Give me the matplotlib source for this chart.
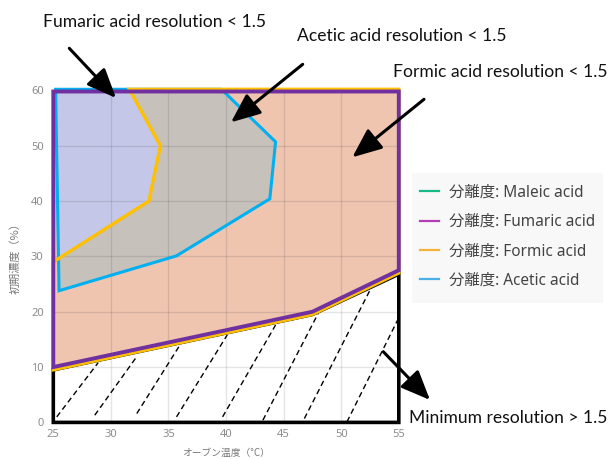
import matplotlib
matplotlib.use('Agg')
import matplotlib.pyplot as plt
from matplotlib.patches import Polygon, Rectangle
from matplotlib.lines import Line2D
from matplotlib.font_manager import FontProperties

plt.rcParams['font.family'] = ['Noto Sans CJK JP', 'DejaVu Sans']

# ---------------- data ----------------
x_ticks = [25, 30, 35, 40, 45, 50, 55]
y_ticks = [0, 10, 20, 30, 40, 50, 60]
x_label = 'オーブン温度（°C）'
y_label = '初期濃度（%）'
series_names = ['分離度: Maleic acid', '分離度: Fumaric acid',
                '分離度: Formic acid', '分離度: Acetic acid']

maleic_temp = [25, 47.5, 55, 55, 25]
maleic_conc = [10, 20, 27.5, 59.8, 59.8]
fumaric_temp = [25, 47.5, 55, 55, 25]
fumaric_conc = [10, 20, 27.5, 59.8, 59.8]
formic_temp = [25, 47.5, 55, 55, 31.6, 34.3, 33.3, 25]
formic_conc = [9.5, 19.5, 27, 60.2, 60.2, 50, 40, 29]
acetic_temp = [25.2, 39.6, 44.3, 43.8, 35.7, 25.5]
acetic_conc = [60.2, 60.2, 50.7, 40.4, 30.1, 23.8]
minres_temp = [25, 55, 55, 47.5, 25]
minres_conc = [0, 0, 26.8, 19.5, 9.5]

# shaded zones
zone_fumaric_temp = [25.2, 31.6, 34.3, 33.3, 25.35]
zone_fumaric_conc = [60.2, 60.2, 50, 40, 29]

# dashed hatch segments in the minimum-resolution zone
hatch_temp0 = [25.3, 28.6, 32.25, 35.7, 39.7, 43.2, 46.8, 50.5]
hatch_conc0 = [1.0, 1.3, 1.6, 1.0, 1.0, 0.4, 0.7, 0.1]
hatch_temp1 = [28.9, 32.25, 36.0, 40.1, 44.3, 48.0, 52.5, 54.9]
hatch_conc1 = [10.8, 11.9, 14.0, 15.8, 17.6, 19.7, 23.9, 18.5]

annotations = [
    ('Fumaric acid resolution < 1.5', (42.7, 27.3), (69.3, 48.3), (116, 98)),
    ('Acetic acid resolution < 1.5', (297.3, 41.0), (302.7, 64.3), (231, 122.3)),
    ('Formic acid resolution < 1.5', (392.7, 77.3), (424, 99.3), (352.3, 157.3)),
    ('Minimum resolution > 1.5', (409.3, 422.7), (383.3, 351.7), (430, 400)),
]

# ---------------- styles ----------------
W, H = 611, 459
fig = plt.figure(figsize=(W / 100, H / 100), dpi=100)
fig.patch.set_facecolor('white')
ax = fig.add_axes([53.3 / W, 36.6 / H, 345.5 / W, 332 / H])
ax.set_facecolor('white')

c_salmon = '#EFC5B0'
c_gray = '#C7C1BC'
c_lav = '#C4C7E7'
c_purple = '#7030A0'
c_yellow = '#FFC000'
c_blue = '#00B0F0'
leg_colors = ['#19b987', '#b33db3', '#f4b43a', '#4bb0e6']

# fills
ax.add_patch(Polygon(list(zip(fumaric_temp, fumaric_conc)), closed=True,
                     facecolor=c_salmon, edgecolor='none', zorder=1))
ax.add_patch(Polygon(list(zip(acetic_temp, acetic_conc)), closed=True,
                     facecolor=c_gray, edgecolor='none', zorder=1.1))
ax.add_patch(Polygon(list(zip(zone_fumaric_temp, zone_fumaric_conc)), closed=True,
                     facecolor=c_lav, edgecolor='none', zorder=1.2))

# min resolution zone + hatch
ax.add_patch(Polygon(list(zip(minres_temp, minres_conc)), closed=True,
                     facecolor='none', edgecolor='black', lw=2.6, zorder=3,
                     joinstyle='miter', clip_on=False))
for t0, c0, t1, c1 in zip(hatch_temp0, hatch_conc0, hatch_temp1, hatch_conc1):
    ax.plot([t0, t1], [c0, c1], color='black', lw=1.0,
            linestyle=(0, (4, 2.6)), zorder=2)

def outline(tx, cy, color, lw, z):
    ax.add_patch(Polygon(list(zip(tx, cy)), closed=True, facecolor='none',
                         edgecolor=color, lw=lw, zorder=z, joinstyle='miter',
                         clip_on=False))

outline(maleic_temp, maleic_conc, leg_colors[0], 1.5, 3.5)
outline(acetic_temp, acetic_conc, c_blue, 2.2, 4)
outline(formic_temp, formic_conc, c_yellow, 2.4, 4.5)
outline(fumaric_temp, fumaric_conc, c_purple, 2.8, 5)

ax.set_xlim(25, 55)
ax.set_ylim(0, 60)
ax.set_xticks(x_ticks)
ax.set_yticks(y_ticks)
ax.set_axisbelow('line')
ax.grid(True, color='black', alpha=0.1, linewidth=1.0)
for s in ax.spines.values():
    s.set_visible(False)
tick_font = ['Noto Sans', 'DejaVu Sans']
ax.tick_params(length=0, labelsize=8, labelcolor='#8c8c8c')
ax.tick_params(axis='y', pad=7)
ax.tick_params(axis='x', pad=5)
for lbl in ax.get_xticklabels() + ax.get_yticklabels():
    lbl.set_family(tick_font)

fig.text(226 / W, 1 - 453 / H, x_label, ha='center', va='center',
         fontsize=7, color='#777777')
fig.text(15 / W, 1 - 256 / H, y_label, ha='center', va='center',
         rotation=90, fontsize=8, color='#777777')

# legend background
fig.patches.append(Rectangle((412 / W, 1 - 303 / H), 191 / W, 130 / H,
                             transform=fig.transFigure, facecolor='#f8f8f8',
                             edgecolor='none', zorder=0))
handles = [Line2D([], [], color=c, lw=1.6) for c in leg_colors]
leg_family = ['Noto Sans', 'Noto Sans CJK JP']


def make_legend(size, spacing_px, top_px):
    fpx = size * 100 / 72.0
    return fig.legend(handles, series_names, loc='upper left',
                      bbox_to_anchor=(420 / W, 1 - top_px / H), frameon=False,
                      prop=FontProperties(family=leg_family, size=size),
                      handlelength=19.0 / fpx, handletextpad=10.0 / fpx,
                      labelspacing=spacing_px / fpx, borderpad=0,
                      borderaxespad=0.0, labelcolor='#444444')


leg = make_legend(10, 10, 183)

# annotations
ann_font = ['Lato', 'DejaVu Sans']
texts = []
for label, (tx, ty), (ax0, ay0), (ax1, ay1) in annotations:
    t = fig.text(tx / W, 1 - ty / H, label, ha='left', va='baseline',
                 fontsize=12.5, family=ann_font, color='#111111')
    texts.append(t)
    ax.annotate('', xy=(ax1, H - ay1), xycoords='figure pixels',
                xytext=(ax0, H - ay0), textcoords='figure pixels',
                arrowprops=dict(arrowstyle='-|>,head_length=0.9,head_width=0.38',
                                mutation_scale=20, lw=2.2, color='black',
                                shrinkA=0, shrinkB=0),
                annotation_clip=False, zorder=10)

fig.canvas.draw()
w = texts[0].get_window_extent().width
scale = 223.0 / w
for t in texts:
    t.set_fontsize(t.get_fontsize() * scale)

# fit legend text width to the reference (first label ~134 px wide)
lw0 = leg.get_texts()[0].get_window_extent().width
new_size = 10 * 134.0 / lw0
leg.remove()
leg = make_legend(new_size, 10, 183)
fig.canvas.draw()
row_h = leg.get_texts()[0].get_window_extent().height
pitch = 29.3
leg.remove()
leg = make_legend(new_size, max(pitch - row_h, 0), 192.7 - row_h / 2.0)

fig.savefig('out.png', dpi=100)
